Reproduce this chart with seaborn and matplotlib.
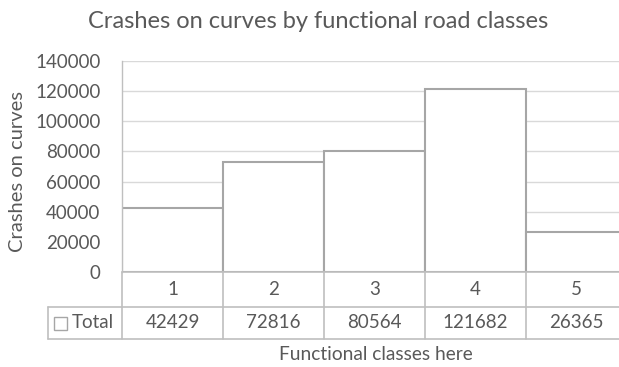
import matplotlib
matplotlib.use("Agg")
import matplotlib.pyplot as plt
import matplotlib.transforms as mtransforms
from matplotlib.patches import Rectangle
import seaborn as sns
import pandas as pd

# Data
classes = ["1", "2", "3", "4", "5"]
totals = [42429, 72816, 80564, 121682, 26365]
series_name = "Total"
y_ticks = [0, 20000, 40000, 60000, 80000, 100000, 120000, 140000]

sns.set_style("white")
plt.rcParams["font.family"] = ["Lato", "DejaVu Sans"]

TEXT = "#595959"
GRID = "#D9D9D9"
EDGE = "#A6A6A6"
TABLE = "#BFBFBF"
FS = 13.5

df = pd.DataFrame({"cls": classes, "value": totals})

W, H = 619, 367
fig = plt.figure(figsize=(W / 100, H / 100), dpi=100)
ax_left, ax_top, ax_bottom = 122, 61, 272
col_w = 101
ax = fig.add_axes([ax_left / W, (H - ax_bottom) / H,
                   5 * col_w / W, (ax_bottom - ax_top) / H])

sns.barplot(data=df, x="cls", y="value", ax=ax, width=1.0,
            color="white", edgecolor=EDGE, linewidth=1.5, saturation=1)

ax.set_xlim(-0.5, 4.5)
ax.set_ylim(0, 140000)
ax.set_yticks(y_ticks)
ax.set_yticklabels([str(t) for t in y_ticks], fontsize=FS, color=TEXT)
ax.tick_params(axis="y", length=0, pad=15.5)
ax.set_xticks([])
ax.set_xlabel("")
ax.set_ylabel("")
ax.grid(axis="y", color=GRID, linewidth=1)
ax.set_axisbelow(True)
for s in ["top", "right", "bottom"]:
    ax.spines[s].set_visible(False)
ax.spines["left"].set_color(TABLE)
ax.spines["left"].set_linewidth(1)

# Data table beneath the plot: x in data units, y in axes fraction
trans = mtransforms.blended_transform_factory(ax.transData, ax.transAxes)
ph = ax_bottom - ax_top
def yf(py):
    return (ax_bottom - py) / ph

row1_bot = yf(307)
row2_bot = yf(339)
left_x = -0.5 + (48 - ax_left) / col_w
right_x = 4.6

line_kw = dict(color=TABLE, linewidth=1.2, transform=trans, clip_on=False)
ax.plot([-0.5, right_x], [0, 0], **line_kw)
ax.plot([left_x, right_x], [row1_bot, row1_bot], **line_kw)
ax.plot([left_x, right_x], [row2_bot, row2_bot], **line_kw)
ax.plot([left_x, left_x], [row1_bot, row2_bot], **line_kw)
for xb in [-0.5, 0.5, 1.5, 2.5, 3.5]:
    ax.plot([xb, xb], [0, row2_bot], **line_kw)

for i, (c, v) in enumerate(zip(classes, totals)):
    ax.text(i, (0 + row1_bot) / 2, c, transform=trans, ha="center",
            va="center", fontsize=FS, color=TEXT)
    ax.text(i, (row1_bot + row2_bot) / 2, f"{v}", transform=trans,
            ha="center", va="center", fontsize=FS, color=TEXT)

# Legend key in the table header cell
key_y = (row1_bot + row2_bot) / 2
fig.patches.append(Rectangle((54 / W, (H - 330) / H), 13 / W, 13 / H,
                             transform=fig.transFigure, facecolor="white",
                             edgecolor=EDGE, linewidth=1))
ax.text(-0.5 + (72 - ax_left) / col_w, key_y, series_name, transform=trans,
        ha="left", va="center", fontsize=FS, color=TEXT)

fig.text(318 / W, 1 - 22 / H, "Crashes on curves by functional road classes",
         ha="center", va="center", fontsize=17, color=TEXT)
fig.text(376 / W, 1 - 355 / H, "Functional classes here",
         ha="center", va="center", fontsize=13.8, color=TEXT)
fig.text(18 / W, 1 - 172 / H, "Crashes on curves", rotation=90,
         ha="center", va="center", fontsize=14.5, color=TEXT)

fig.savefig("out.png", dpi=100, facecolor="white")
